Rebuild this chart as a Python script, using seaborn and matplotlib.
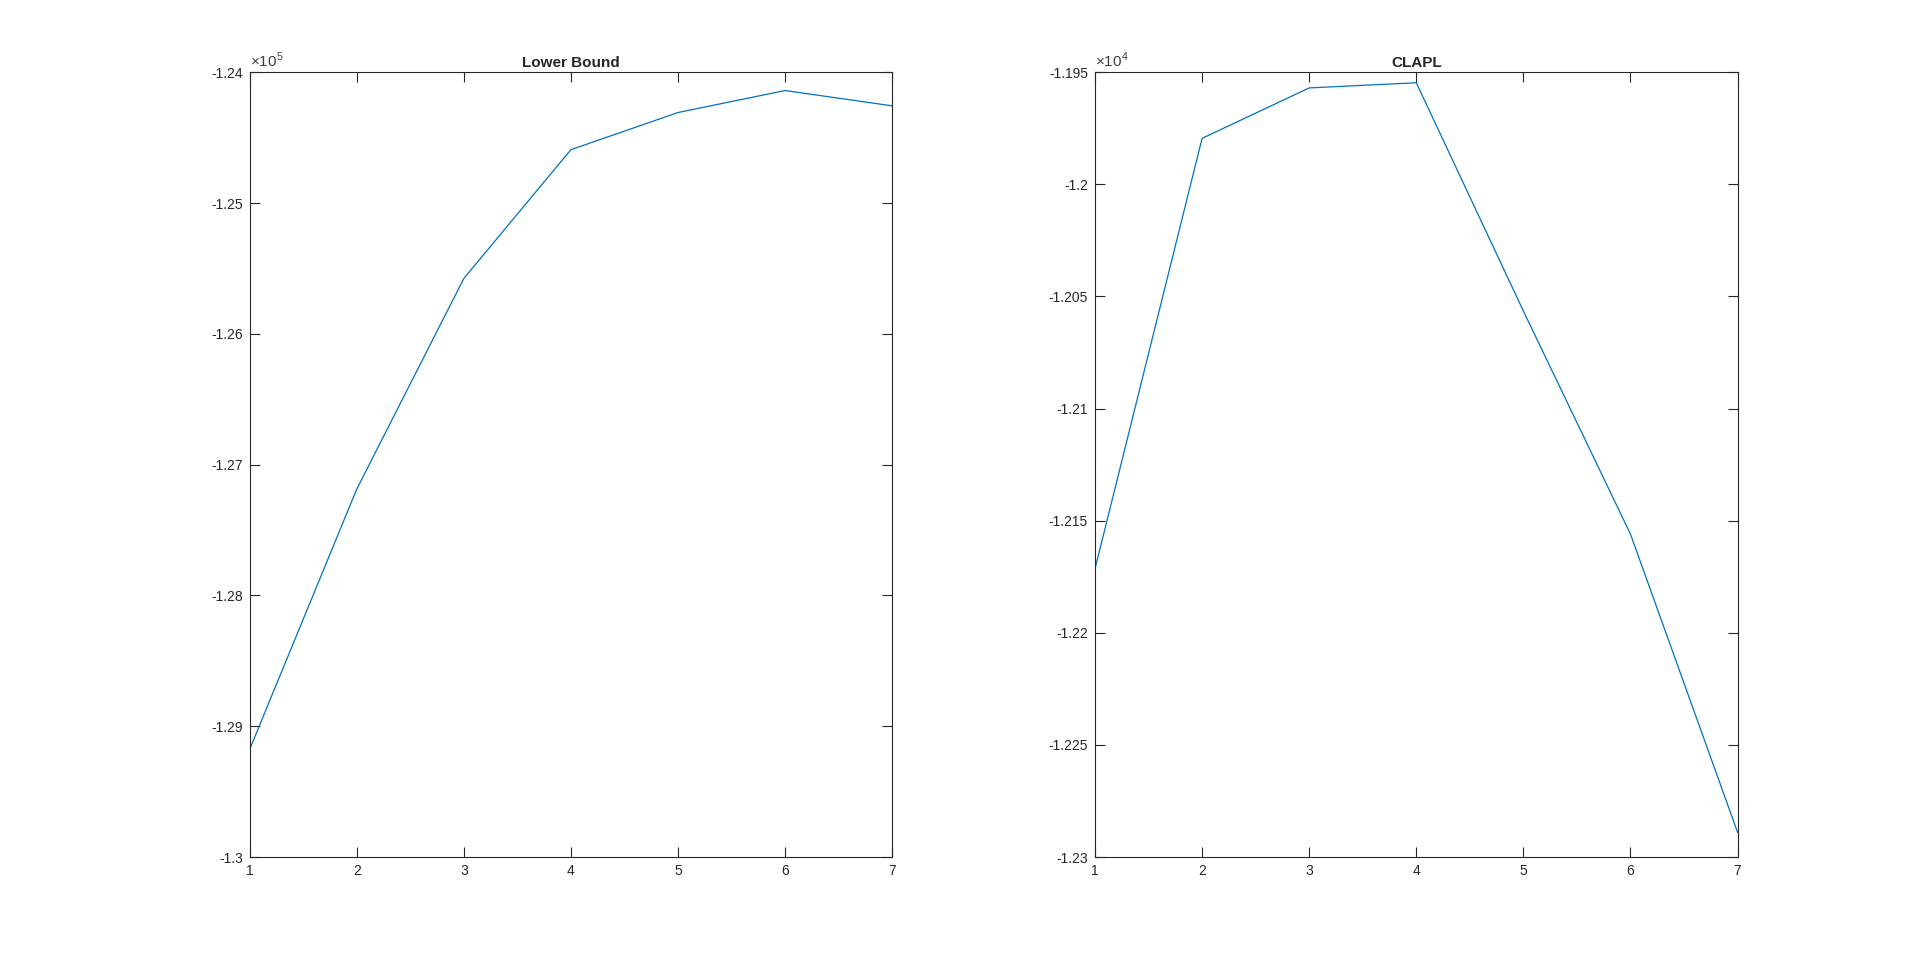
import matplotlib
matplotlib.use("Agg")
import matplotlib.pyplot as plt
import seaborn as sns
import pandas as pd
import numpy as np
from matplotlib.ticker import FuncFormatter, FixedLocator

# Data
iterations = [1, 2, 3, 4, 5, 6, 7]
lower_bound = [-129178, -127188, -125577, -124592, -124308, -124140, -124257]
clapl = [-12171.5, -11979.5, -11957, -11954.7, -12056.5, -12156, -12289]

titles = ["Lower Bound", "CLAPL"]
exponents = [5, 4]
ylims = [(-130000, -124000), (-12300, -11950)]
ytick_steps = [1000, 50]

sns.set_style("ticks")
plt.rcParams['font.family'] = ['Liberation Sans', 'DejaVu Sans']
plt.rcParams['mathtext.fontset'] = 'custom'
plt.rcParams['mathtext.rm'] = 'Liberation Sans'

fig = plt.figure(figsize=(19.2, 9.63), dpi=100)
positions = [[0.13, 0.11, 0.3347, 0.815], [0.5703, 0.11, 0.3347, 0.815]]
series = [lower_bound, clapl]
color = "#0072BD"

for i in range(2):
    ax = fig.add_axes(positions[i])
    df = pd.DataFrame({"x": iterations, "y": series[i]})
    sns.lineplot(data=df, x="x", y="y", ax=ax, color=color, linewidth=0.9)
    ax.set_xlim(1, 7)
    lo, hi = ylims[i]
    ax.set_ylim(lo, hi)
    ax.set_xticks(iterations)
    ax.xaxis.set_major_formatter(FuncFormatter(lambda v, p: "%d" % v))
    yt = np.arange(lo, hi + ytick_steps[i] / 2, ytick_steps[i])
    ax.yaxis.set_major_locator(FixedLocator(yt))
    e = exponents[i]
    ax.yaxis.set_major_formatter(FuncFormatter(lambda v, p, e=e: "%g" % round(v / 10**e, 4)))
    ax.set_xlabel("")
    ax.set_ylabel("")
    for s in ax.spines.values():
        s.set_visible(True)
        s.set_linewidth(0.8)
        s.set_color("#262626")
    ax.tick_params(direction="in", length=7, width=0.8, top=True, right=True,
                   labelsize=10, colors="#262626", labelcolor="#262626", pad=5)
    ax.set_title(titles[i], fontsize=11, fontweight="bold", pad=4)
    ax.text(0.0, 1.003, r"$\times10^{%d}$" % e, transform=ax.transAxes,
            ha="left", va="bottom", fontsize=11, color="#404040")
    ax.grid(False)

fig.savefig("out.png", dpi=100, facecolor="white")
